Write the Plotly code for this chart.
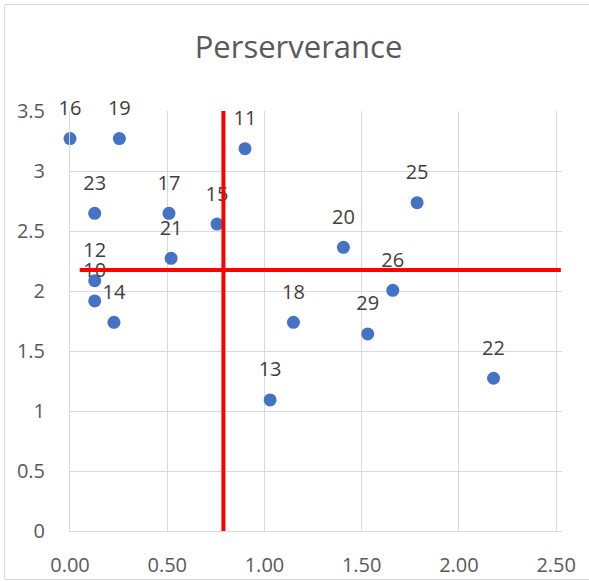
import plotly.graph_objects as go

# Scores per participant
labels = ["16", "19", "11", "23", "17", "15", "21", "12", "10", "14",
          "18", "20", "25", "26", "29", "13", "22"]
x_vals = [0.00, 0.254, 0.90, 0.127, 0.509, 0.756, 0.52, 0.127, 0.127, 0.226,
          1.149, 1.406, 1.785, 1.66, 1.531, 1.029, 2.178]
y_vals = [3.27, 3.27, 3.186, 2.647, 2.647, 2.558, 2.272, 2.086, 1.917, 1.739,
          1.739, 2.364, 2.736, 2.006, 1.642, 1.092, 1.273]

# Reference lines (means)
v_line_x = [0.789, 0.789]
v_line_y = [0.0, 3.5]
h_line_x = [0.05, 2.524]
h_line_y = [2.175, 2.175]

x_ticks = [0, 0.5, 1.0, 1.5, 2.0, 2.5]
y_ticks = [0, 0.5, 1, 1.5, 2, 2.5, 3, 3.5]

FONT = "Open Sans"
GRID = "#d9d9d9"

fig = go.Figure()

fig.add_trace(go.Scatter(
    x=x_vals, y=y_vals, mode="markers",
    marker=dict(size=13, color="#4472C4", line=dict(width=0)),
    cliponaxis=False, showlegend=False, hoverinfo="skip",
))

fig.add_trace(go.Scatter(
    x=x_vals, y=y_vals, mode="markers+text", text=labels,
    textposition="top center",
    textfont=dict(family=FONT, size=20, color="#404040"),
    marker=dict(size=28, color="rgba(0,0,0,0)"),
    cliponaxis=False, showlegend=False, hoverinfo="skip",
))

for lx, ly in ((v_line_x, v_line_y), (h_line_x, h_line_y)):
    fig.add_trace(go.Scatter(
        x=lx, y=ly, mode="lines",
        line=dict(color="#ff0000", width=4),
        showlegend=False, hoverinfo="skip",
    ))

fig.update_layout(
    width=589, height=581,
    margin=dict(l=70, r=27, t=111, b=50, autoexpand=False),
    paper_bgcolor="white", plot_bgcolor="white",
    font=dict(family=FONT, color="#595959"),
    title=dict(
        text="Perserverance", xref="container", yref="container",
        x=298.5 / 589, y=1 - 47 / 581, xanchor="center", yanchor="middle",
        font=dict(family=FONT, size=31, color="#595959"),
        automargin=False,
    ),
    xaxis=dict(
        range=[0, 2.53], tickvals=x_ticks, tickformat=".2f",
        showgrid=True, gridcolor=GRID, gridwidth=1,
        zeroline=False, showline=True, linecolor=GRID, linewidth=1,
        ticks="", ticklabelstandoff=16, automargin=False,
        tickfont=dict(family=FONT, size=20, color="#595959"),
    ),
    yaxis=dict(
        range=[0, 3.5], tickvals=y_ticks,
        showgrid=True, gridcolor=GRID, gridwidth=1,
        zeroline=False, showline=True, linecolor=GRID, linewidth=1,
        ticks="", ticklabelstandoff=20, automargin=False,
        tickfont=dict(family=FONT, size=20, color="#595959"),
    ),
    shapes=[dict(
        type="rect", xref="paper", yref="paper",
        x0=(4.5 - 70) / 492, x1=(620 - 70) / 492,
        y0=(531 - 579.5) / 420, y1=(531 - 4.5) / 420,
        line=dict(color=GRID, width=1), fillcolor="rgba(0,0,0,0)", layer="below",
    )],
)

fig.write_html("out.html")
